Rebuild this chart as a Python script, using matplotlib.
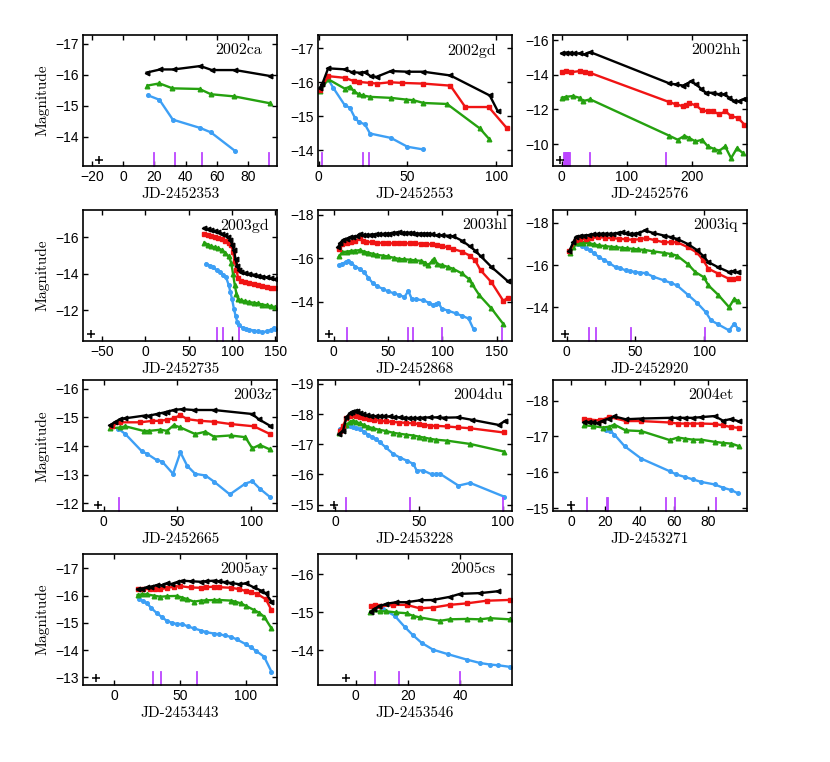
import matplotlib
matplotlib.use("Agg")
import matplotlib.pyplot as plt

plt.rcParams['font.family'] = ['Liberation Sans', 'DejaVu Sans']
plt.rcParams['axes.unicode_minus'] = True

# light curves: (days, absolute magnitude) per band
# black = I, red = R, green = V, blue = B
sn02ca_k = [(15, -16.07), (23.7, -16.17), (32.3, -16.17), (49.5, -16.28), (57, -16.15), (72, -16.15), (94.2, -15.96)]
sn02ca_g = [(15.5, -15.65), (23.2, -15.72), (31.6, -15.56), (49, -15.54), (56.3, -15.37), (71.4, -15.30), (94.2, -15.08)]
sn02ca_b = [(16.1, -15.33), (23.2, -15.19), (31.8, -14.55), (49.5, -14.28), (56.3, -14.14), (71.6, -13.55)]
sn02ca_spec = [19.8, 32.9, 50.8, 93.8]

sn02gd_k = [(0.6, -15.84), (1.9, -15.94), (5.3, -16.41), (14.7, -16.38), (18.5, -16.30), (23.2, -16.28), (26, -16.30),
            (29.2, -16.18), (32.6, -16.16), (40.7, -16.33), (50, -16.31), (59, -16.31), (74.2, -16.20), (96.4, -15.61),
            (101, -15.14)]
sn02gd_r = [(0.6, -15.77), (5.3, -16.18), (14.7, -16.13), (20, -16.03), (22.6, -16.01), (28.9, -15.98), (33, -15.96),
            (40.2, -16.0), (47.2, -15.98), (59, -15.96), (74.2, -15.90), (82.6, -15.27), (95.8, -15.27), (106, -14.65)]
sn02gd_g = [(0.6, -15.74), (5.3, -16.09), (14.7, -15.81), (17.5, -15.87), (19.8, -15.74), (22.6, -15.64), (25.1, -15.61),
            (28.9, -15.57), (40.7, -15.54), (49.2, -15.49), (53.4, -15.47), (59, -15.39), (72.3, -15.36), (90.8, -14.64),
            (96.2, -14.32)]
sn02gd_b = [(5.3, -16.09), (8.1, -15.84), (14.7, -15.32), (17.5, -15.25), (20.4, -14.95), (22.6, -14.83), (26, -14.76),
            (28.9, -14.49), (40.7, -14.36), (50, -14.10), (59, -14.02)]
sn02gd_spec = [1.9, 24.7, 28.5]

sn02hh_k = [(0, -15.23), (5.6, -15.27), (11.8, -15.27), (17.9, -15.23), (27.2, -15.23), (34.9, -15.17), (43.6, -15.31),
            (165.6, -13.5), (175.9, -13.44), (186.2, -13.38), (191.3, -13.44), (199, -13.63), (206.7, -13.44),
            (214.4, -13.19), (222, -12.96), (232.3, -12.96), (242.6, -12.87), (250.3, -12.87), (258, -12.67),
            (265.6, -12.48), (273.3, -12.48), (281, -12.62)]
sn02hh_r = [(0, -14.15), (6.7, -14.19), (14.4, -14.15), (27.2, -14.21), (34.9, -14.15), (42.6, -14.12), (165.6, -12.42),
            (175.9, -12.29), (186.2, -12.19), (191.3, -12.23), (196.4, -12.35), (206.7, -12.23), (215.9, -11.94),
            (224.6, -11.90), (232.3, -11.90), (242.6, -11.71), (251.8, -11.90), (260.5, -11.61), (270.8, -11.52),
            (281, -11.13)]
sn02hh_g = [(0, -12.67), (6.7, -12.73), (17, -12.77), (27.2, -12.67), (32.3, -12.48), (43.6, -12.58), (165.6, -10.48),
            (178.5, -10.25), (188.7, -10.48), (196.4, -10.35), (205.6, -10.15), (215.9, -10.25), (224.6, -9.87),
            (234.9, -9.71), (242.6, -9.62), (251.3, -9.87), (260.5, -9.19), (269.7, -9.77), (278.5, -9.48)]
sn02hh_spec = [4, 5, 6, 7, 8, 9, 10, 11, 12, 43.6, 160.5]

sn03gd_k = [(68, -16.5), (72, -16.45), (76, -16.4), (80, -16.35), (84, -16.3), (88, -16.2), (92, -16.1), (95, -16.0),
            (98, -15.85), (100, -15.6), (102, -15.3), (104, -14.8), (106, -14.4), (108, -14.2), (110, -14.1),
            (115, -14.05), (120, -14.0), (125, -13.95), (130, -13.9), (135, -13.85), (140, -13.8), (145, -13.75),
            (150, -13.7)]
sn03gd_r = [(68, -16.15), (72, -16.1), (76, -16.05), (80, -16.0), (84, -15.95), (88, -15.9), (92, -15.8), (96, -15.7),
            (99, -15.55), (101, -15.2), (103, -14.7), (105, -14.2), (107, -13.75), (110, -13.6), (115, -13.55),
            (120, -13.5), (125, -13.45), (130, -13.4), (135, -13.35), (140, -13.3), (145, -13.25), (150, -13.2)]
sn03gd_g = [(68, -15.7), (72, -15.6), (76, -15.5), (80, -15.45), (84, -15.4), (88, -15.3), (92, -15.15), (96, -14.95),
            (99, -14.6), (101, -14.0), (103, -13.4), (105, -12.9), (107, -12.6), (110, -12.55), (115, -12.5),
            (120, -12.45), (125, -12.42), (130, -12.38), (135, -12.32), (140, -12.28), (145, -12.22), (150, -12.18)]
sn03gd_b = [(70, -14.55), (74, -14.45), (78, -14.35), (82, -14.2), (86, -14.1), (90, -13.95), (93, -13.8), (96, -13.4),
            (98, -13.0), (100, -12.6), (102, -12.1), (104, -11.7), (106, -11.35), (108, -11.2), (112, -11.05),
            (116, -11.0), (120, -10.95), (125, -10.9), (130, -10.85), (135, -10.82), (140, -10.85), (145, -10.95),
            (148, -11.05), (150, -11.0)]
sn03gd_spec = [82, 89.6, 108]

sn03hl_k = [(4, -16.5), (6, -16.7), (9, -16.85), (12, -16.9), (15, -16.95), (18, -16.97), (21, -17.0), (24, -17.12),
            (27, -17.05), (30, -17.05), (33, -17.07), (36, -17.08), (39, -17.1), (42, -17.1), (45, -17.1),
            (48, -17.12), (51, -17.12), (54, -17.15), (57, -17.17), (60, -17.2), (63, -17.17), (66, -17.15),
            (69, -17.17), (72, -17.15), (75, -17.13), (78, -17.13), (81, -17.12), (84, -17.12), (87, -17.12),
            (90, -17.1), (95, -17.05), (100, -17.05), (105, -17.03), (110, -17.0), (118, -16.8), (125, -16.55),
            (130, -16.35), (135, -16.1), (145, -15.6), (160, -14.95)]
sn03hl_r = [(5, -16.4), (8, -16.65), (12, -16.7), (16, -16.75), (20, -16.78), (24, -16.92), (27, -16.8), (30, -16.75),
            (35, -16.73), (40, -16.7), (45, -16.7), (50, -16.68), (55, -16.68), (60, -16.7), (65, -16.68),
            (70, -16.68), (75, -16.68), (80, -16.66), (85, -16.65), (90, -16.63), (95, -16.6), (100, -16.55),
            (105, -16.5), (110, -16.42), (118, -16.3), (125, -16.12), (130, -15.9), (135, -15.45), (145, -14.9),
            (156, -14.04), (160, -14.2)]
sn03hl_g = [(5, -16.08), (8, -16.28), (12, -16.3), (16, -16.33), (20, -16.35), (24, -16.37), (28, -16.3), (32, -16.25),
            (36, -16.2), (40, -16.15), (45, -16.12), (50, -16.08), (55, -16.02), (60, -15.97), (65, -15.95),
            (70, -15.93), (75, -15.9), (80, -15.88), (84, -15.8), (87, -15.67), (90, -15.85), (92, -15.97),
            (95, -15.74), (100, -15.68), (105, -15.6), (110, -15.51), (118, -15.3), (124, -15.06), (127, -14.83),
            (134, -14.3), (145, -13.7), (155.7, -13.0)]
sn03hl_b = [(5, -15.67), (8, -15.75), (11, -15.82), (13, -15.87), (16, -15.78), (20, -15.62), (24, -15.5), (28, -15.35),
            (32, -15.1), (36, -14.85), (40, -14.72), (45, -14.6), (50, -14.48), (55, -14.4), (60, -14.32),
            (65, -14.22), (68.6, -14.5), (71.7, -14.15), (76, -14.12), (82.5, -14.07), (88, -13.95), (91.7, -13.84),
            (94, -13.9), (96.3, -13.95), (99.4, -13.69), (105, -13.6), (112, -13.48), (118, -13.36), (124, -13.24),
            (128.6, -12.74)]
sn03hl_spec = [12.6, 68.6, 73.2, 100, 154.8]

sn03iq_k = [(2, -16.66), (5, -17.1), (7, -17.35), (10, -17.38), (13, -17.4), (16, -17.42), (19, -17.45), (22, -17.46),
            (25, -17.48), (28, -17.48), (31, -17.47), (34, -17.48), (37, -17.52), (40, -17.56), (43, -17.5),
            (46, -17.48), (49, -17.48), (52, -17.5), (56.8, -17.64), (63, -17.52), (70.6, -17.4), (76, -17.32),
            (80.2, -17.24), (88, -17.0), (94.5, -16.72), (99, -16.45), (103, -16.14), (110, -15.9), (118, -15.67),
            (121, -15.7), (124.5, -15.67)]
sn03iq_r = [(2, -16.66), (7, -17.2), (10, -17.22), (14, -17.24), (18, -17.28), (23, -17.32), (28, -17.3), (33, -17.27),
            (38, -17.25), (43, -17.22), (48, -17.2), (53, -17.22), (57.6, -17.28), (64, -17.18), (70.6, -17.08),
            (76, -17.08), (80.2, -17.08), (88, -16.85), (94.5, -16.6), (99, -16.25), (103, -15.83), (110, -15.6),
            (118, -15.35), (121, -15.33), (124.5, -15.38)]
sn03iq_g = [(2.4, -16.58), (5, -16.85), (8, -17.04), (12, -17.04), (16.5, -17.04), (20, -16.98), (23.6, -16.93),
            (28, -16.9), (32, -16.87), (35.6, -16.85), (40, -16.82), (44, -16.79), (48, -16.77), (52, -16.74),
            (56.4, -16.72), (63, -16.65), (70.6, -16.58), (76, -16.52), (80.2, -16.45), (88, -16.05), (93.5, -15.67),
            (99.6, -15.43), (103, -15.04), (110, -14.6), (118, -14.01), (121.7, -14.4), (124.5, -14.3)]
sn03iq_b = [(8, -17.0), (11, -16.9), (14, -16.8), (17, -16.7), (20, -16.55), (23.6, -16.38), (27, -16.25), (31, -16.1),
            (35.6, -15.9), (39, -15.85), (43, -15.75), (46, -15.72), (50, -15.67), (53, -15.65), (57.6, -15.62),
            (63, -15.45), (70.6, -15.28), (76, -15.15), (80.2, -15.04), (88, -14.6), (95, -14.2), (101, -13.78),
            (104.8, -13.39), (110, -13.2), (118, -12.91), (121.7, -13.23), (124.5, -12.99)]
sn03iq_spec = [16, 21.3, 47, 100.5]

sn03z_k = [(4.5, -14.73), (8, -14.85), (11.3, -14.94), (14.7, -14.97), (27, -15.06), (30.5, -15.06), (36, -15.12),
           (40.7, -15.17), (43, -15.2), (47.5, -15.26), (53, -15.29), (61, -15.26), (74.7, -15.26), (100.7, -15.12),
           (105, -14.94), (112.7, -14.71)]
sn03z_r = [(5.7, -14.71), (11.3, -14.83), (24.9, -14.83), (32.8, -14.88), (38.5, -14.88), (43, -14.92), (47.5, -14.97),
           (52, -15.08), (56.6, -14.94), (65.6, -14.88), (74.7, -14.85), (86, -14.77), (101.8, -14.69), (112.7, -14.42)]
sn03z_g = [(4.5, -14.62), (11.3, -14.65), (14.7, -14.69), (27, -14.53), (30.5, -14.53), (38.5, -14.57), (43, -14.53),
           (47.5, -14.73), (52, -14.65), (62, -14.42), (69, -14.5), (74.7, -14.33), (86, -14.37), (96, -14.31),
           (100.7, -13.92), (105.8, -14.04), (112.7, -13.88)]
sn03z_b = [(10, -14.6), (14.7, -14.42), (26, -13.81), (29.4, -13.73), (36.2, -13.5), (39.6, -13.46), (47, -13.03),
           (52, -13.78), (56.6, -13.31), (62, -13.03), (69, -12.97), (74.7, -12.76), (85.5, -12.31), (96, -12.69),
           (100.7, -12.77), (105.8, -12.51), (112.7, -12.22)]
sn03z_spec = [10.2]

sn04du_k = [(2.2, -17.34), (4.6, -17.45), (6.6, -17.89), (8.6, -18.03), (10, -18.08), (11.6, -18.11), (13, -18.1),
            (14.6, -18.05), (16.5, -18.0), (18.6, -17.97), (21, -17.95), (24, -17.93), (26.5, -17.92), (29, -17.92),
            (32.5, -17.92), (35, -17.9), (38.5, -17.89), (41, -17.88), (44, -17.87), (46.5, -17.86), (49, -17.87),
            (52, -17.88), (56.5, -17.89), (61, -17.89), (65, -17.88), (73.4, -17.89), (81.4, -17.81), (97.4, -17.64),
            (101.4, -17.78)]
sn04du_r = [(2.6, -17.45), (4.5, -17.6), (6.6, -17.86), (8.6, -17.95), (10.6, -17.97), (12.5, -17.95), (14.6, -17.91),
            (17, -17.87), (20, -17.84), (23, -17.81), (26.5, -17.78), (30, -17.76), (34, -17.74), (38, -17.72),
            (42, -17.71), (46.5, -17.69), (50, -17.67), (53, -17.65), (56.5, -17.61), (60, -17.61), (66.5, -17.59),
            (73, -17.56), (80.4, -17.53), (100.4, -17.39)]
sn04du_g = [(2.2, -17.38), (4.5, -17.5), (6.6, -17.64), (8.6, -17.74), (10.6, -17.78), (12.5, -17.74), (14.6, -17.69),
            (17, -17.64), (19.5, -17.58), (22.6, -17.53), (26, -17.48), (30, -17.44), (34.5, -17.38), (38, -17.35),
            (42, -17.32), (46.5, -17.29), (50, -17.25), (53, -17.22), (56.5, -17.18), (60, -17.15), (66.5, -17.12),
            (80.4, -17.01), (100.4, -16.76)]
sn04du_b = [(2.6, -17.51), (4.5, -17.58), (6.6, -17.62), (8.6, -17.6), (10.6, -17.56), (12.5, -17.54), (14.6, -17.51),
            (17, -17.42), (19.5, -17.32), (21.6, -17.25), (24, -17.17), (26.5, -17.07), (30, -16.9), (34.5, -16.68),
            (38.5, -16.56), (42.5, -16.46), (46.5, -16.35), (48.5, -16.13), (52.5, -16.13), (57.5, -16.0),
            (60, -16.02), (62.5, -16.02), (73.4, -15.63), (80.4, -15.72), (100.4, -15.27)]
sn04du_spec = [6.2, 44.5, 99.8]

sn04et_k = [(7.8, -17.4), (10.5, -17.4), (12.7, -17.4), (15.6, -17.38), (18.5, -17.44), (22, -17.5), (25.3, -17.56),
            (31.8, -17.48), (41, -17.5), (57.5, -17.52), (62.4, -17.52), (66.3, -17.52), (71.2, -17.52), (76, -17.54),
            (83.8, -17.57), (88.7, -17.44), (93.6, -17.49), (98, -17.42)]
sn04et_r = [(7.8, -17.48), (10.7, -17.47), (16.6, -17.45), (22.4, -17.54), (32.2, -17.43), (41, -17.43), (57.5, -17.39),
            (62.4, -17.36), (67.3, -17.36), (71.2, -17.36), (76, -17.36), (83.8, -17.35), (88.7, -17.31),
            (93.6, -17.26), (98, -17.24)]
sn04et_g = [(7.8, -17.31), (12.7, -17.29), (18.5, -17.25), (22, -17.27), (25.3, -17.33), (31.8, -17.17), (41, -17.15),
            (57.5, -16.9), (62.4, -16.97), (66.3, -16.94), (71.2, -16.91), (76, -16.91), (83.8, -16.85),
            (88.7, -16.82), (93.6, -16.8), (98, -16.73)]
sn04et_b = [(20.5, -17.17), (23, -17.15), (25.3, -17.05), (31.2, -16.73), (41, -16.38), (57.5, -16.03), (61.4, -15.94),
            (66.3, -15.87), (71.2, -15.8), (76, -15.73), (83.8, -15.66), (88.7, -15.57), (93.6, -15.5), (97.5, -15.41)]
sn04et_spec = [9.2, 20.9, 21.8, 55.2, 60.8, 84.8]

sn05ay_k = [(17.6, -16.24), (21, -16.26), (24.7, -16.3), (28, -16.33), (32.4, -16.39), (36, -16.38), (40, -16.45),
            (44, -16.43), (47.7, -16.49), (51.5, -16.55), (58, -16.53), (65.6, -16.51), (70, -16.53), (75.8, -16.55),
            (80, -16.52), (84, -16.5), (88.5, -16.47), (95, -16.42), (100, -16.45), (106.4, -16.3), (112, -16.18),
            (115.3, -16.09), (119.6, -15.78)]
sn05ay_r = [(17.6, -16.23), (22, -16.25), (27.3, -16.24), (31, -16.26), (35, -16.23), (40, -16.29), (45, -16.32),
            (50, -16.35), (58, -16.3), (65.6, -16.29), (70, -16.31), (75.8, -16.33), (80, -16.31), (88.5, -16.29),
            (95, -16.24), (100, -16.17), (104, -16.12), (108.9, -16.06), (115.3, -15.87), (119.6, -15.47)]
sn05ay_g = [(17.6, -16.02), (21, -16.05), (24.7, -16.05), (30, -16.0), (35, -15.96), (40, -15.98), (47.7, -15.99),
            (51.5, -15.93), (55, -15.88), (60.5, -15.78), (66, -15.82), (70, -15.83), (75.8, -15.84), (80, -15.84),
            (88.5, -15.82), (92, -15.78), (96.2, -15.72), (100, -15.63), (106.4, -15.47), (110, -15.38), (114, -15.23),
            (119.6, -14.8)]
sn05ay_b = [(19, -15.86), (22, -15.8), (24.7, -15.72), (28, -15.55), (32.4, -15.35), (36, -15.22), (40, -15.07),
            (44, -15.0), (47.7, -14.96), (51.5, -14.96), (56, -14.87), (60.5, -14.8), (66, -14.72), (70, -14.66),
            (75.8, -14.61), (80, -14.58), (84, -14.54), (88.5, -14.49), (93, -14.4), (100, -14.22), (104, -14.1),
            (108, -13.97), (114, -13.76), (119.6, -13.21)]
sn05ay_spec = [29, 35.2, 63]

sn05cs_k = [(5.8, -15.01), (7, -15.08), (9, -15.15), (11.8, -15.22), (15.6, -15.26), (19.5, -15.26), (24.6, -15.31),
            (29.7, -15.32), (36, -15.4), (40, -15.48), (47.7, -15.5), (54.7, -15.55)]
sn05cs_r = [(6, -15.15), (7.3, -15.19), (9.2, -15.15), (14.4, -15.19), (19.5, -15.19), (24.6, -15.1), (29.7, -15.12),
            (36, -15.19), (42.6, -15.23), (50.3, -15.3), (59, -15.32)]
sn05cs_g = [(5.6, -15.01), (9.2, -15.02), (11.8, -15.02), (15.6, -14.99), (19.5, -14.97), (22, -14.9), (24.6, -14.86),
            (32.3, -14.77), (36, -14.81), (42.6, -14.82), (47.7, -14.81), (51.5, -14.84), (59, -14.81)]
sn05cs_b = [(6.4, -15.15), (8, -15.17), (10.5, -15.08), (15, -14.9), (18.8, -14.61), (22, -14.39), (25.3, -14.19),
            (29.7, -14.01), (35.5, -13.89), (42.6, -13.75), (47.7, -13.66), (51.5, -13.62), (54.7, -13.6), (59, -13.56)]
sn05cs_spec = [7.3, 16.7, 40]

names = ['2002ca', '2002gd', '2002hh', '2003gd', '2003hl', '2003iq', '2003z', '2004du', '2004et', '2005ay', '2005cs']
jd0 = ['2452353', '2452553', '2452576', '2452735', '2452868', '2452920', '2452665', '2453228', '2453271', '2453443',
       '2453546']
explosion = [-15.7, None, -3.6, -63, -4.3, -1, -4, -1, 0, -14, -3.6]
xlims = [(-26, 99), (-0.5, 109), (-14, 285), (-72, 152), (-14.5, 164), (-10, 131), (-14, 117.6), (-10.4, 105.4),
         (-10.7, 102.7), (-24, 124), (-14.5, 60)]
ylims = [(-13.05, -17.28), (-13.53, -17.39), (-8.73, -16.29), (-10.33, -17.49), (-12.21, -18.21), (-12.41, -18.61),
         (-11.72, -16.3), (-14.78, -19.12), (-14.91, -18.57), (-12.72, -17.53), (-13.08, -16.53)]
xticks = [range(-20, 81, 20), [0, 50, 100], [0, 100, 200], range(-50, 151, 50), [0, 50, 100, 150], [0, 50, 100],
          [0, 50, 100], [0, 50, 100], range(0, 81, 20), [0, 50, 100], [0, 20, 40]]
yticks = [[-17, -16, -15, -14], [-17, -16, -15, -14], [-16, -14, -12, -10], [-16, -14, -12], [-18, -16, -14],
          [-18, -16, -14], [-16, -15, -14, -13, -12], [-19, -18, -17, -16, -15], [-18, -17, -16, -15],
          [-17, -16, -15, -14, -13], [-16, -15, -14]]
title_x = [0.92, 0.915, 0.967, 0.955, 0.973, 0.954, 0.973, 0.952, 0.928, 0.952, 0.912]

curves = [
    (sn02ca_k, None, sn02ca_g, sn02ca_b, sn02ca_spec),
    (sn02gd_k, sn02gd_r, sn02gd_g, sn02gd_b, sn02gd_spec),
    (sn02hh_k, sn02hh_r, sn02hh_g, None, sn02hh_spec),
    (sn03gd_k, sn03gd_r, sn03gd_g, sn03gd_b, sn03gd_spec),
    (sn03hl_k, sn03hl_r, sn03hl_g, sn03hl_b, sn03hl_spec),
    (sn03iq_k, sn03iq_r, sn03iq_g, sn03iq_b, sn03iq_spec),
    (sn03z_k, sn03z_r, sn03z_g, sn03z_b, sn03z_spec),
    (sn04du_k, sn04du_r, sn04du_g, sn04du_b, sn04du_spec),
    (sn04et_k, sn04et_r, sn04et_g, sn04et_b, sn04et_spec),
    (sn05ay_k, sn05ay_r, sn05ay_g, sn05ay_b, sn05ay_spec),
    (sn05cs_k, sn05cs_r, sn05cs_g, sn05cs_b, sn05cs_spec),
]

# band styles: color, marker, size
style_b = ('#3d9ff5', 'o', 2.6)
style_g = ('#25a10f', '^', 3.3)
style_r = ('#f01414', 's', 2.5)
style_k = ('#000000', '<', 3.3)

fig = plt.figure(figsize=(8.3, 7.62), dpi=100)
lefts = [0.100, 0.383, 0.666]
bottoms = [0.782, 0.5525, 0.329, 0.101]
w, h = 0.234, 0.172

for i, name in enumerate(names):
    row, col = divmod(i, 3)
    ax = fig.add_axes([lefts[col], bottoms[row], w, h])
    k, r, g, b, spec = curves[i]
    for data, st in ((b, style_b), (g, style_g), (r, style_r), (k, style_k)):
        if data is None:
            continue
        xs = [p[0] for p in data]
        ys = [p[1] for p in data]
        ax.plot(xs, ys, color=st[0], marker=st[1], markersize=st[2], lw=1.7, mec=st[0])

    trans = ax.get_xaxis_transform()
    for s in spec:
        ax.plot([s, s], [0, 0.1], color='#bb44ff', lw=1.3, transform=trans, clip_on=False)
    if explosion[i] is not None:
        ax.plot([explosion[i]], [0.05], marker='+', color='black', markersize=5.5, mew=1.1, transform=trans)

    ax.set_xlim(*xlims[i])
    ax.set_ylim(*ylims[i])
    ax.set_xticks(list(xticks[i]))
    ax.set_yticks(yticks[i])
    ax.tick_params(direction='in', top=True, right=True, length=3.5, width=1, labelsize=10, pad=3)
    for sp in ax.spines.values():
        sp.set_linewidth(1.2)

    ax.text(title_x[i], 0.935, name, transform=ax.transAxes, ha='right', va='top',
            family='cmr10', fontsize=11.5)
    ax.set_xlabel('JD-' + jd0[i], family='cmr10', fontsize=11, labelpad=2)
    if col == 0:
        ax.set_ylabel('Magnitude', family='cmr10', fontsize=11, labelpad=4)

fig.savefig('out.png', dpi=100)
